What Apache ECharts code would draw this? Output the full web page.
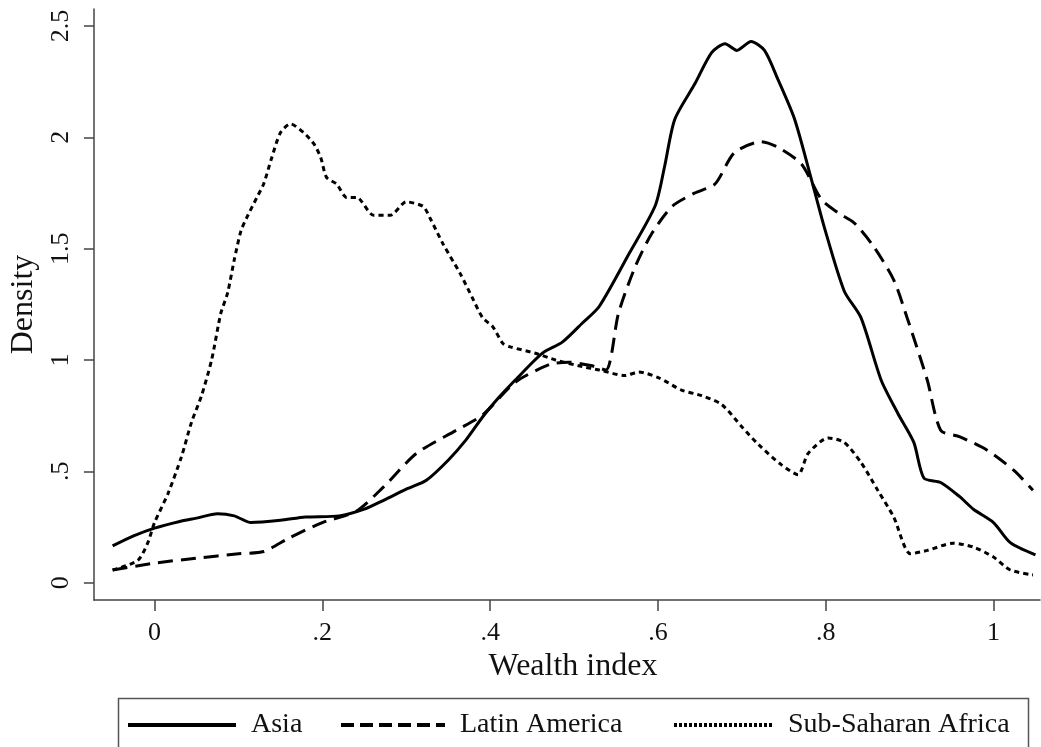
<!DOCTYPE html>
<html>
<head>
<meta charset="utf-8">
<script src="https://cdn.jsdelivr.net/npm/echarts@6/dist/echarts.min.js"></script>
<style>
html,body{margin:0;padding:0;background:#fff;}
#chart{width:1041px;height:747px;}
</style>
</head>
<body>
<div id="chart"></div>
<script>
// ---- data ----
const seriesNames = ['Asia', 'Latin America', 'Sub-Saharan Africa'];
const xTicks = [0, 0.2, 0.4, 0.6, 0.8, 1];
const xTickLabels = ['0', '.2', '.4', '.6', '.8', '1'];
const yTicks = [0, 0.5, 1, 1.5, 2, 2.5];
const yTickLabels = ['0', '.5', '1', '1.5', '2', '2.5'];

const asiaX = [-0.05,-0.025,0,0.03,0.05,0.075,0.095,0.115,0.15,0.18,0.22,0.25,0.273,0.3,0.324,0.35,0.371,0.391,0.41,0.43,0.462,0.486,0.51,0.53,0.566,0.597,0.608,0.62,0.644,0.664,0.68,0.694,0.711,0.727,0.743,0.763,0.783,0.798,0.822,0.842,0.866,0.886,0.905,0.917,0.937,0.96,0.976,1.0,1.02,1.05];
const asiaY = [0.165,0.21,0.245,0.275,0.29,0.31,0.30,0.27,0.28,0.295,0.30,0.33,0.37,0.42,0.46,0.55,0.64,0.744,0.83,0.91,1.03,1.08,1.166,1.24,1.48,1.695,1.87,2.08,2.24,2.38,2.42,2.39,2.43,2.39,2.26,2.08,1.81,1.60,1.31,1.19,0.91,0.76,0.63,0.47,0.45,0.385,0.33,0.27,0.18,0.125];

const latX = [-0.05,0,0.05,0.1,0.13,0.16,0.2,0.24,0.273,0.312,0.36,0.391,0.43,0.471,0.494,0.52,0.538,0.553,0.573,0.593,0.617,0.644,0.668,0.691,0.723,0.743,0.771,0.795,0.815,0.834,0.857,0.881,0.897,0.921,0.937,0.96,0.992,1.024,1.047];
const latY = [0.057,0.088,0.11,0.13,0.14,0.20,0.27,0.32,0.43,0.58,0.685,0.753,0.90,0.98,0.99,0.975,0.955,1.21,1.42,1.57,1.69,1.75,1.79,1.93,1.98,1.955,1.88,1.72,1.66,1.615,1.51,1.36,1.19,0.91,0.685,0.655,0.596,0.505,0.415];

const ssaX = [-0.05,-0.02,-0.008,0,0.016,0.032,0.044,0.056,0.068,0.079,0.087,0.095,0.103,0.11,0.122,0.13,0.139,0.15,0.162,0.178,0.19,0.198,0.205,0.217,0.229,0.241,0.261,0.281,0.3,0.32,0.328,0.344,0.364,0.38,0.391,0.403,0.415,0.423,0.454,0.478,0.51,0.53,0.561,0.577,0.601,0.628,0.652,0.676,0.7,0.72,0.747,0.767,0.779,0.803,0.822,0.842,0.862,0.881,0.901,0.921,0.952,0.976,1.0,1.02,1.047];
const ssaY = [0.057,0.10,0.18,0.27,0.40,0.565,0.72,0.84,1.0,1.21,1.30,1.45,1.58,1.64,1.73,1.79,1.90,2.02,2.06,2.02,1.97,1.91,1.82,1.79,1.73,1.73,1.65,1.65,1.71,1.69,1.64,1.52,1.39,1.27,1.19,1.15,1.075,1.06,1.03,1.0,0.97,0.955,0.93,0.946,0.92,0.865,0.84,0.80,0.70,0.62,0.53,0.485,0.58,0.65,0.63,0.54,0.415,0.295,0.13,0.145,0.177,0.16,0.115,0.057,0.035];

function pairs(xs, ys) { return xs.map((x, i) => [x, ys[i]]); }

const chart = echarts.init(document.getElementById('chart'), null, {renderer: 'canvas'});
const serif = 'Liberation Serif, Times New Roman, serif';
const axisColor = '#444';

function legendAt(left, width, name, dash) {
  return {
    left: left, top: 711, padding: 0,
    data: [name],
    itemWidth: width, itemHeight: 14,
    itemGap: 0,
    selectedMode: false,
    itemStyle: {color: 'rgba(0,0,0,0)', borderWidth: 0, opacity: 0},
    lineStyle: {width: 4, type: dash, color: '#000', opacity: 1},
    textStyle: {fontFamily: serif, fontSize: 28, color: '#111', padding: [0, 0, 0, 10]}
  };
}

chart.setOption({
  animation: false,
  backgroundColor: '#fff',
  grid: {left: 89, right: 1, top: 9, bottom: 147, containLabel: false},
  legend: [
    legendAt(126, 108, seriesNames[0], 'solid'),
    legendAt(339, 104, seriesNames[1], [13, 6]),
    legendAt(672, 99, seriesNames[2], [3, 2])
  ],
  graphic: [{
    type: 'rect', left: 116, top: 696, silent: true,
    shape: {width: 910, height: 70},
    style: {fill: 'none', stroke: '#555', lineWidth: 1.5}
  }],
  xAxis: {
    type: 'value', min: -0.0723, max: 1.0554,
    name: 'Wealth index', nameLocation: 'middle', nameGap: 46,
    nameTextStyle: {fontFamily: serif, fontSize: 32, color: '#111', padding: [0, 0, 0, 12]},
    axisLine: {show: true, onZero: false, lineStyle: {color: axisColor, width: 1.5}},
    axisTick: {show: true, length: 11, lineStyle: {color: axisColor, width: 1.5}, customValues: xTicks},
    axisLabel: {fontFamily: serif, fontSize: 26, color: '#111', margin: 20, customValues: xTicks,
      formatter: v => xTickLabels[xTicks.findIndex(t => Math.abs(t - v) < 1e-6)] ?? ''},
    splitLine: {show: false}
  },
  yAxis: {
    type: 'value', min: -0.0777, max: 2.576,
    name: 'Density', nameLocation: 'middle', nameGap: 45, nameRotate: 90,
    nameTextStyle: {fontFamily: serif, fontSize: 32, color: '#111'},
    axisLine: {show: true, onZero: false, lineStyle: {color: axisColor, width: 1.5}},
    axisTick: {show: true, length: 10, lineStyle: {color: axisColor, width: 1.5}, customValues: yTicks},
    axisLabel: {fontFamily: serif, fontSize: 26, color: '#111', margin: 20, rotate: 90, customValues: yTicks,
      formatter: v => yTickLabels[yTicks.findIndex(t => Math.abs(t - v) < 1e-6)] ?? ''},
    splitLine: {show: false}
  },
  series: [
    {name: seriesNames[0], type: 'line', data: pairs(asiaX, asiaY), symbol: 'none', smooth: 0.25,
      color: '#000', lineStyle: {color: '#000', width: 3, type: 'solid'}},
    {name: seriesNames[1], type: 'line', data: pairs(latX, latY), symbol: 'none', smooth: 0.25,
      color: '#000', lineStyle: {color: '#000', width: 3, type: [15, 8]}},
    {name: seriesNames[2], type: 'line', data: pairs(ssaX, ssaY), symbol: 'none', smooth: 0.25,
      color: '#000', lineStyle: {color: '#000', width: 3, type: [5, 4]}}
  ]
});
</script>
</body>
</html>
